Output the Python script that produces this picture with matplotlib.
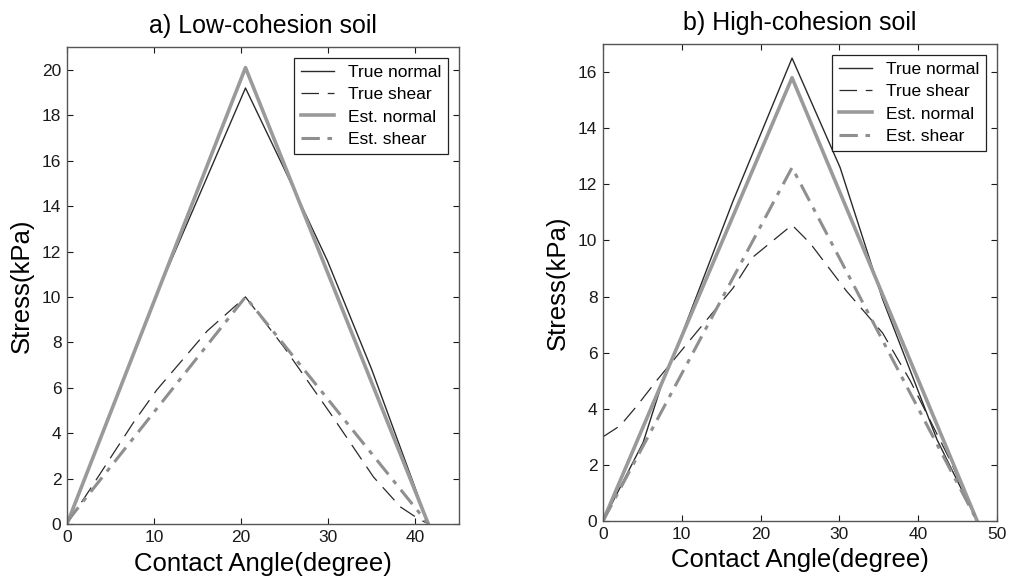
import matplotlib
matplotlib.use("Agg")
import matplotlib.pyplot as plt

plt.rcParams['font.family'] = ['Liberation Sans', 'DejaVu Sans']

# ---- a) Low-cohesion soil ----
low_tn_x = [0, 10.5, 20.5, 25.0, 29.9, 35.0, 41.5]
low_tn_y = [0, 10.3, 19.2, 15.6, 11.6, 6.8, 0]
low_ts_x = [0, 2.6, 7.6, 10.3, 16.1, 20.5, 24.9, 30.2, 35.2, 38.3, 40.2, 41.5]
low_ts_y = [0, 1.5, 4.45, 5.9, 8.5, 10.0, 7.8, 4.9, 2.07, 0.75, 0.27, 0]
low_en_x = [0, 20.5, 41.5]
low_en_y = [0, 20.1, 0]
low_es_x = [0, 20.5, 41.5]
low_es_y = [0.1, 10.0, 0]

# ---- b) High-cohesion soil ----
high_tn_x = [0, 5.1, 7.6, 9.4, 16.5, 24.0, 30.1, 35.5, 42.4, 47.5]
high_tn_y = [0, 2.8, 5.0, 6.2, 11.4, 16.5, 12.6, 7.9, 2.9, 0]
high_ts_x = [0, 2.2, 4.3, 6.8, 11.5, 16.5, 19.0, 24.0, 26.3, 30.9, 35.5, 39.0, 44.0, 47.5]
high_ts_y = [3.0, 3.4, 4.1, 5.0, 6.6, 8.3, 9.4, 10.55, 9.9, 8.2, 6.7, 5.0, 2.2, 0]
high_en_x = [0, 24.0, 47.5]
high_en_y = [0, 15.8, 0]
high_es_x = [0, 24.0, 47.5]
high_es_y = [0, 12.6, 0]

labels = ["True normal", "True shear", "Est. normal", "Est. shear"]
titles = ["a) Low-cohesion soil", "b) High-cohesion soil"]
x_limits = [(0, 45), (0, 50)]
y_limits = [(0, 21), (0, 17)]
x_ticks = [[0, 10, 20, 30, 40], [0, 10, 20, 30, 40, 50]]
y_ticks = [list(range(0, 21, 2)), list(range(0, 17, 2))]

panels = [
    (low_tn_x, low_tn_y, low_ts_x, low_ts_y, low_en_x, low_en_y, low_es_x, low_es_y),
    (high_tn_x, high_tn_y, high_ts_x, high_ts_y, high_en_x, high_en_y, high_es_x, high_es_y),
]

fig = plt.figure(figsize=(10.10, 5.88), dpi=100)
positions = [[0.0663, 0.1088, 0.388, 0.811], [0.597, 0.114, 0.390, 0.811]]

for i, (pos, data) in enumerate(zip(positions, panels)):
    ax = fig.add_axes(pos)
    tnx, tny, tsx, tsy, enx, eny, esx, esy = data
    ax.plot(tnx, tny, color="#2a2a2a", lw=1.0, label=labels[0])
    ax.plot(tsx, tsy, color="#2a2a2a", lw=0.9, dashes=(14, 7), label=labels[1])
    ax.plot(enx, eny, color="#9a9a9a", lw=2.6, label=labels[2])
    ax.plot(esx, esy, color="#8f8f8f", lw=2.2, dashes=(6, 2.5, 1.5, 2.5), label=labels[3])

    ax.set_xlim(*x_limits[i])
    ax.set_ylim(*y_limits[i])
    ax.set_xticks(x_ticks[i])
    ax.set_yticks(y_ticks[i])
    ax.tick_params(direction="in", length=4, width=0.8, top=True, right=True,
                   labelsize=12.5, colors="#1a1a1a", pad=4)
    for sp in ax.spines.values():
        sp.set_color("#555555")
        sp.set_linewidth(1.0)
    ax.set_title(titles[i], fontsize=18, pad=10)
    ax.set_xlabel("Contact Angle(degree)", fontsize=18.5, labelpad=5)
    ax.set_ylabel("Stress(kPa)", fontsize=18.5, labelpad=6)
    leg = ax.legend(loc="upper right", fontsize=12.5, frameon=True, fancybox=False,
                    framealpha=1, edgecolor="#222222", handlelength=1.9,
                    labelspacing=0.42, borderpad=0.4, handletextpad=0.8,
                    borderaxespad=0.6)
    leg.get_frame().set_linewidth(0.9)

fig.savefig("out.png", dpi=100)
